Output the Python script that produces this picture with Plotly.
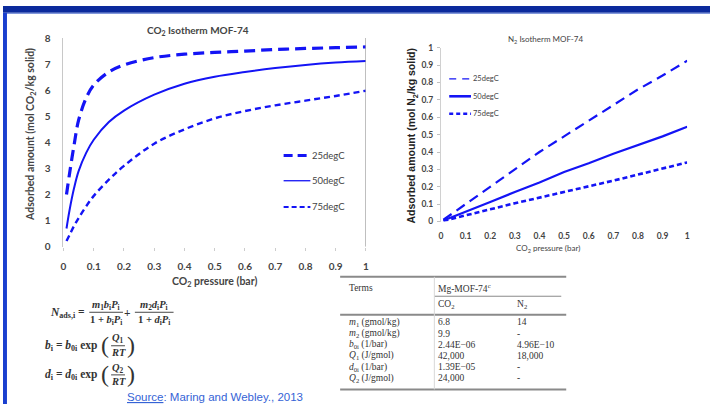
import plotly.graph_objects as go

W, H = 713, 410
def px(x): return x / W
def py(y): return 1 - y / H

# ---------------- data ----------------
pressure_co2 = [0.01, 0.02, 0.035, 0.05, 0.075, 0.1, 0.15, 0.2, 0.3, 0.4, 0.5, 0.6, 0.7, 0.8, 0.9, 1.0]
co2_25 = [2.0, 2.8, 3.9, 4.85, 5.7, 6.2, 6.7, 6.97, 7.25, 7.38, 7.45, 7.5, 7.56, 7.6, 7.63, 7.66]
co2_50 = [0.7, 1.4, 2.25, 2.9, 3.6, 4.1, 4.78, 5.22, 5.83, 6.25, 6.52, 6.7, 6.85, 6.97, 7.06, 7.12]
co2_75 = [0.22, 0.45, 0.8, 1.1, 1.55, 1.95, 2.57, 3.1, 3.95, 4.5, 4.92, 5.2, 5.42, 5.6, 5.78, 5.98]

pressure_n2 = [0.01, 0.05, 0.1, 0.2, 0.3, 0.4, 0.5, 0.6, 0.7, 0.8, 0.9, 1.0]
n2_25 = [0.01, 0.05, 0.1, 0.205, 0.305, 0.4, 0.49, 0.58, 0.67, 0.76, 0.84, 0.925]
n2_50 = [0.006, 0.028, 0.056, 0.112, 0.17, 0.225, 0.285, 0.335, 0.39, 0.44, 0.49, 0.545]
n2_75 = [0.004, 0.017, 0.035, 0.07, 0.105, 0.137, 0.168, 0.2, 0.235, 0.27, 0.305, 0.34]

x_ticks = [0, 0.1, 0.2, 0.3, 0.4, 0.5, 0.6, 0.7, 0.8, 0.9, 1]
x_ticktext = ["0", "0.1", "0.2", "0.3", "0.4", "0.5", "0.6", "0.7", "0.8", "0.9", "1"]
y1_ticks = [0, 1, 2, 3, 4, 5, 6, 7, 8]
y2_ticks = [0, 0.1, 0.2, 0.3, 0.4, 0.5, 0.6, 0.7, 0.8, 0.9, 1]
y2_ticktext = ["0", "0.1", "0.2", "0.3", "0.4", "0.5", "0.6", "0.7", "0.8", "0.9", "1"]

legend_labels = ["25degC", "50degC", "75degC"]

table_terms = ["<i>m</i><sub>1</sub> (gmol/kg)", "<i>m</i><sub>2</sub> (gmol/kg)", "<i>b</i><sub>0i</sub> (1/bar)",
               "<i>Q</i><sub>1</sub> (J/gmol)", "<i>d</i><sub>0i</sub> (1/bar)", "<i>Q</i><sub>2</sub> (J/gmol)"]
table_co2 = ["6.8", "9.9", "2.44E\u221206", "42,000", "1.39E\u221205", "24,000"]
table_n2 = ["14", "-", "4.96E\u221210", "18,000", "-", "-"]

# ---------------- styling ----------------
BLUE = "#1414f5"
GRAY = "#444444"
TICKFONT = dict(family="Lato", size=10, color=GRAY, weight="bold")

fig = go.Figure()

# CO2 chart
fig.add_trace(go.Scatter(x=pressure_co2, y=co2_25, mode="lines", xaxis="x", yaxis="y",
                         line=dict(color=BLUE, width=3.2, dash="11px,6px", shape="spline", smoothing=1)))
fig.add_trace(go.Scatter(x=pressure_co2, y=co2_50, mode="lines", xaxis="x", yaxis="y",
                         line=dict(color=BLUE, width=2, shape="spline", smoothing=1)))
fig.add_trace(go.Scatter(x=pressure_co2, y=co2_75, mode="lines", xaxis="x", yaxis="y",
                         line=dict(color=BLUE, width=2.4, dash="6px,4px", shape="spline", smoothing=1)))
# N2 chart
fig.add_trace(go.Scatter(x=pressure_n2, y=n2_25, mode="lines", xaxis="x2", yaxis="y2",
                         line=dict(color=BLUE, width=2.2, dash="10px,6px")))
fig.add_trace(go.Scatter(x=pressure_n2, y=n2_50, mode="lines", xaxis="x2", yaxis="y2",
                         line=dict(color=BLUE, width=2.2)))
fig.add_trace(go.Scatter(x=pressure_n2, y=n2_75, mode="lines", xaxis="x2", yaxis="y2",
                         line=dict(color=BLUE, width=2.6, dash="5px,3px")))

shapes = []
ann = []

# slide frame
shapes.append(dict(type="rect", xref="paper", yref="paper", x0=0, x1=1, y0=py(7), y1=1,
                   fillcolor="#0b2a9c", line=dict(width=0), layer="above"))
shapes.append(dict(type="line", xref="paper", yref="paper", x0=0, x1=1, y0=py(7.5), y1=py(7.5),
                   line=dict(color="#5b78d0", width=1), layer="above"))
shapes.append(dict(type="rect", xref="paper", yref="paper", x0=0, x1=px(4), y0=0, y1=py(7),
                   fillcolor="#1a3fcf", line=dict(width=0), layer="above"))

# right border line on CO2 chart
shapes.append(dict(type="line", xref="x", yref="y", x0=1, x1=1, y0=0, y1=8,
                   line=dict(color="#9a9a9a", width=1.2)))

# titles
ann.append(dict(text="CO<sub>2</sub> Isotherm MOF-74", x=px(197), y=py(25), font=dict(family="Lato", size=10, color=GRAY, weight="bold")))
ann.append(dict(text="N<sub>2</sub> Isotherm MOF-74", x=px(547), y=py(35), font=dict(family="Lato", size=8, color=GRAY)))
ann.append(dict(text="Adsorbed amount (mol CO<sub>2</sub>/kg solid)", x=px(28), y=py(132), textangle=-90,
                font=dict(family="Lato", size=10.5, color=GRAY, weight="bold")))
ann.append(dict(text="Adsorbed amount (mol N<sub>2</sub>/kg solid)", x=px(413), y=py(134), textangle=-90,
                font=dict(family="Liberation Sans", size=10.5, color="#222222", weight="bold")))
ann.append(dict(text="CO<sub>2</sub> pressure (bar)", x=px(213), y=py(284), font=dict(family="Lato", size=10.5, color=GRAY, weight="bold")))
ann.append(dict(text="CO<sub>2</sub> pressure (bar)", x=px(550), y=py(250), font=dict(family="Lato", size=8, color=GRAY)))

# legend CO2 chart
leg1_y = [154, 180, 207]
leg1_style = [dict(width=3.2, dash="9px,5px"), dict(width=1.3), dict(width=2, dash="5px,3px")]
for lbl, yy, st in zip(legend_labels, leg1_y, leg1_style):
    shapes.append(dict(type="line", xref="paper", yref="paper", x0=px(283), x1=px(310), y0=py(yy), y1=py(yy),
                       line=dict(color=BLUE, **st)))
    ann.append(dict(text=lbl, x=px(310), y=py(yy), xanchor="left", font=dict(family="Lato", size=9.5, color=GRAY)))

# legend N2 chart
leg2_y = [75, 93, 111]
leg2_style = [dict(width=1.3, dash="7px,6px"), dict(width=2.6), dict(width=2.4, dash="4px,3px")]
for lbl, yy, st in zip(legend_labels, leg2_y, leg2_style):
    shapes.append(dict(type="line", xref="paper", yref="paper", x0=px(450), x1=px(472), y0=py(yy), y1=py(yy),
                       line=dict(color=BLUE, **st)))
    ann.append(dict(text=lbl, x=px(472), y=py(yy), xanchor="left", font=dict(family="Lato", size=7.5, color=GRAY)))

# equations
EQ = dict(family="Liberation Serif", size=11.5, color="#333333", weight="bold")
EQS = dict(family="Liberation Serif", size=10.5, color="#333333", weight="bold")
ann.append(dict(text="<i>N</i><sub>ads,i</sub> =", x=px(85), y=py(316), xanchor="right", font=EQ))
ann.append(dict(text="<i>m</i><sub>1</sub><i>b</i><sub>i</sub><i>P</i><sub>i</sub>", x=px(104), y=py(308.5), font=EQS))
ann.append(dict(text="1 + <i>b</i><sub>i</sub><i>P</i><sub>i</sub>", x=px(104), y=py(323.5), font=EQS))
shapes.append(dict(type="line", xref="paper", yref="paper", x0=px(87), x1=px(121), y0=py(315.5), y1=py(315.5),
                   line=dict(color="#333333", width=0.9)))
ann.append(dict(text="+", x=px(126), y=py(316), font=EQ))
ann.append(dict(text="<i>m</i><sub>2</sub><i>d</i><sub>i</sub><i>P</i><sub>i</sub>", x=px(152), y=py(308.5), font=EQS))
ann.append(dict(text="1 + <i>d</i><sub>i</sub><i>P</i><sub>i</sub>", x=px(152), y=py(323.5), font=EQS))
shapes.append(dict(type="line", xref="paper", yref="paper", x0=px(133), x1=px(172), y0=py(315.5), y1=py(315.5),
                   line=dict(color="#333333", width=0.9)))

for (lhs, rhs, q, yc) in [("<i>b</i><sub>i</sub>", "<i>b</i><sub>0i</sub>", "<i>Q</i><sub>1</sub>", 350),
                          ("<i>d</i><sub>i</sub>", "<i>d</i><sub>0i</sub>", "<i>Q</i><sub>2</sub>", 380)]:
    ann.append(dict(text=lhs + " = " + rhs + " exp", x=px(40), y=py(yc), xanchor="left", font=EQ))
    ann.append(dict(text="(", x=px(103), y=py(yc - 1), font=dict(family="Liberation Serif", size=24, color="#333333")))
    ann.append(dict(text=")", x=px(129), y=py(yc - 1), font=dict(family="Liberation Serif", size=24, color="#333333")))
    ann.append(dict(text=q, x=px(116), y=py(yc - 7), font=EQS))
    ann.append(dict(text="<i>RT</i>", x=px(116), y=py(yc + 7), font=EQS))
    shapes.append(dict(type="line", xref="paper", yref="paper", x0=px(109), x1=px(123), y0=py(yc), y1=py(yc),
                       line=dict(color="#333333", width=0.9)))

ann.append(dict(text="<u>Source</u>: Maring and Webley., 2013", x=px(123), y=py(403), xanchor="left",
                font=dict(family="Liberation Sans", size=11.5, color="#3563d6")))

# table
TF = dict(family="Liberation Serif", size=9.5, color="#333333")
for (y0, w, x0, x1, c) in [(279, 2, 340, 568, "#8a8a8a"), (299, 1, 435, 563, "#8a8a8a"),
                           (318, 2, 340, 568, "#8a8a8a"), (395, 2, 340, 568, "#8a8a8a")]:
    shapes.append(dict(type="line", xref="paper", yref="paper", x0=px(x0), x1=px(x1), y0=py(y0), y1=py(y0),
                       line=dict(color=c, width=w)))
shapes.append(dict(type="line", xref="paper", yref="paper", x0=px(435), x1=px(435), y0=py(279), y1=py(395),
                   line=dict(color="#d8d8d8", width=1)))
ann.append(dict(text="Terms", x=px(347), y=py(290), xanchor="left", font=TF))
ann.append(dict(text="Mg-MOF-74<sup>c</sup>", x=px(437), y=py(290), xanchor="left", font=TF))
ann.append(dict(text="CO<sub>2</sub>", x=px(437), y=py(308), xanchor="left", font=TF))
ann.append(dict(text="N<sub>2</sub>", x=px(516), y=py(308), xanchor="left", font=TF))
row_y = [326, 337.5, 349, 360.5, 372, 383.5]
for t, c, n, yy in zip(table_terms, table_co2, table_n2, row_y):
    ann.append(dict(text=t, x=px(347), y=py(yy), xanchor="left", font=TF))
    ann.append(dict(text=c, x=px(437), y=py(yy), xanchor="left", font=TF))
    ann.append(dict(text=n, x=px(516), y=py(yy), xanchor="left", font=TF))

for a in ann:
    a.setdefault("xref", "paper")
    a.setdefault("yref", "paper")
    a.setdefault("showarrow", False)
    a.setdefault("xanchor", "center")
    a.setdefault("yanchor", "middle")

fig.update_layout(
    width=W, height=H, margin=dict(l=0, r=0, t=0, b=0),
    paper_bgcolor="white", plot_bgcolor="rgba(0,0,0,0)", showlegend=False,
    xaxis=dict(domain=[px(61), px(366)], range=[0, 1], tickvals=x_ticks, ticktext=x_ticktext,
               showline=False, showgrid=False, zeroline=False, ticks="outside", ticklen=3, tickcolor="#cccccc",
               tickfont=TICKFONT, ticklabelstandoff=7, anchor="y", fixedrange=True),
    yaxis=dict(domain=[py(248), py(33)], range=[0, 8], tickvals=y1_ticks, showline=True, linecolor="#c8c8c8",
               showgrid=False, zeroline=False, ticks="", tickfont=TICKFONT, ticklabelstandoff=10, anchor="x"),
    xaxis2=dict(domain=[px(441.7), px(690)], range=[0, 1], tickvals=x_ticks, ticktext=x_ticktext,
                showline=False, showgrid=False, zeroline=False, ticks="", tickfont=dict(family="Lato", size=8.5, color=GRAY, weight="bold"),
                ticklabelstandoff=8, anchor="y2"),
    yaxis2=dict(domain=[py(222), py(43)], range=[0, 1], tickvals=y2_ticks, ticktext=y2_ticktext, showline=True,
                linecolor="#d0d0d0", showgrid=False, zeroline=False, ticks="outside", ticklen=3, tickcolor="#c0c0c0",
                tickfont=dict(family="Lato", size=8.5, color=GRAY, weight="bold"), ticklabelstandoff=2, anchor="x2"),
    shapes=shapes, annotations=ann,
)

fig.write_html("out.html")
